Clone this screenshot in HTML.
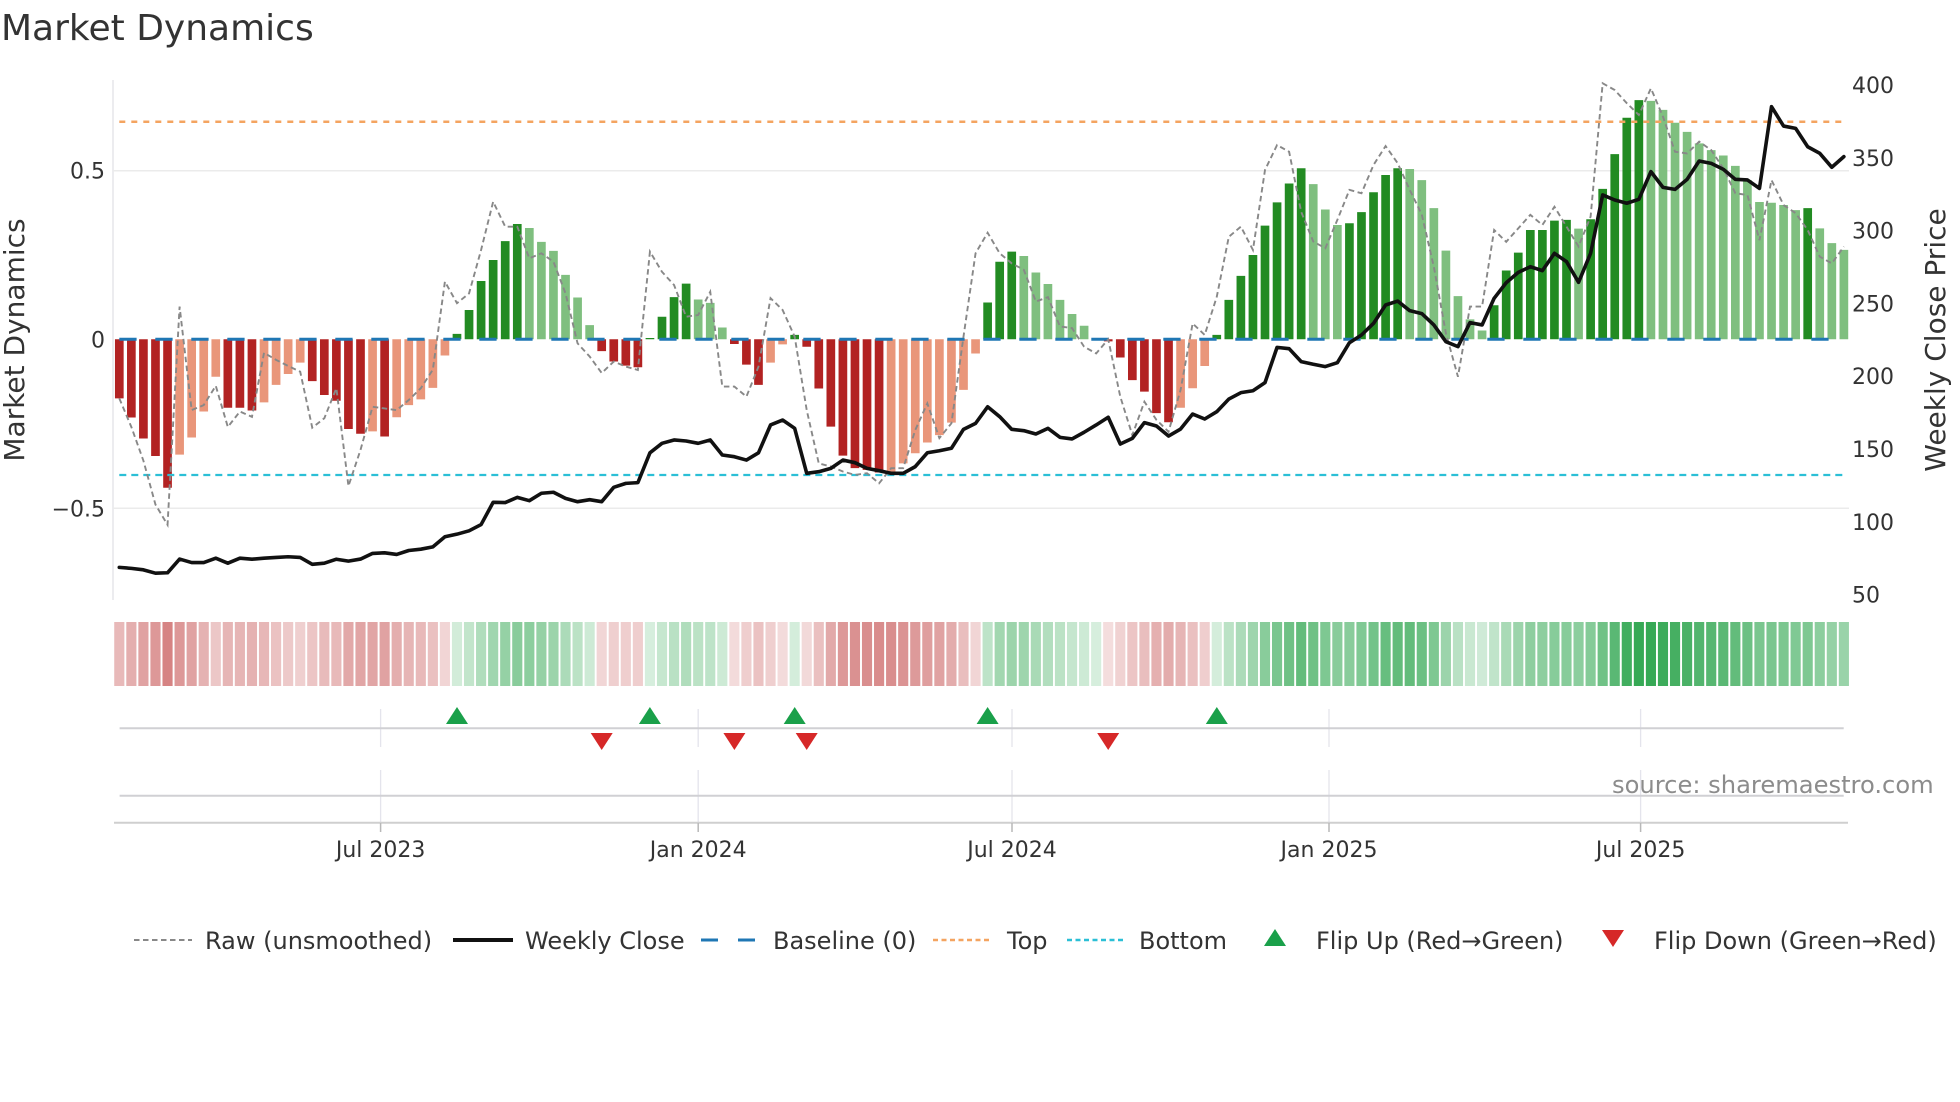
<!DOCTYPE html>
<html><head><meta charset="utf-8"><style>
html,body{margin:0;padding:0;background:#fff}
svg{display:block}
text{font-family:"DejaVu Sans","Liberation Sans",sans-serif;fill:#333}
.tk{font-size:22px}
.lg{font-size:24px}
.hr{fill:#b41e1e}.hg{fill:#1d9e40}
</style></head><body>
<svg width="1960" height="1102" viewBox="0 0 1960 1102" xmlns="http://www.w3.org/2000/svg">
<rect width="1960" height="1102" fill="#fff"/>
<text x="1" y="40" style="font-size:36px">Market Dynamics</text>

<line x1="113" y1="80" x2="113" y2="600" stroke="#e6e6ea" stroke-width="1.5"/>
<line x1="113" y1="170.7" x2="1849" y2="170.7" stroke="#ebebeb" stroke-width="1.5"/>
<line x1="113" y1="508.3" x2="1849" y2="508.3" stroke="#ebebeb" stroke-width="1.5"/>

<g transform="translate(119.3,339.3) scale(12.06,-337.3)">
<path fill="#b22222" d="M-.36 0h.72V-.175h-.72zM.64 0h.72V-.232h-.72zM1.64 0h.72V-.294h-.72zM2.64 0h.72V-.346h-.72zM3.64 0h.72V-.44h-.72zM8.64 0h.72V-.203h-.72zM9.64 0h.72V-.203h-.72zM10.64 0h.72V-.211h-.72zM15.64 0h.72V-.124h-.72zM16.64 0h.72V-.165h-.72zM17.64 0h.72V-.182h-.72zM18.64 0h.72V-.266h-.72zM19.64 0h.72V-.28h-.72zM21.64 0h.72V-.288h-.72zM39.64 0h.72V-.035h-.72zM40.64 0h.72V-.066h-.72zM41.64 0h.72V-.078h-.72zM42.64 0h.72V-.083h-.72zM50.64 0h.72V-.014h-.72zM51.64 0h.72V-.075h-.72zM52.64 0h.72V-.135h-.72zM56.64 0h.72V-.022h-.72zM57.64 0h.72V-.146h-.72zM58.64 0h.72V-.259h-.72zM59.64 0h.72V-.345h-.72zM60.64 0h.72V-.382h-.72zM61.64 0h.72V-.387h-.72zM62.64 0h.72V-.395h-.72zM81.64 0h.72V-.006h-.72zM82.64 0h.72V-.054h-.72zM83.64 0h.72V-.121h-.72zM84.64 0h.72V-.155h-.72zM85.64 0h.72V-.219h-.72zM86.64 0h.72V-.246h-.72z"/>
<path fill="#e9967a" d="M4.64 0h.72V-.342h-.72zM5.64 0h.72V-.291h-.72zM6.64 0h.72V-.214h-.72zM7.64 0h.72V-.111h-.72zM11.64 0h.72V-.187h-.72zM12.64 0h.72V-.135h-.72zM13.64 0h.72V-.103h-.72zM14.64 0h.72V-.069h-.72zM20.64 0h.72V-.273h-.72zM22.64 0h.72V-.231h-.72zM23.64 0h.72V-.195h-.72zM24.64 0h.72V-.178h-.72zM25.64 0h.72V-.144h-.72zM26.64 0h.72V-.048h-.72zM53.64 0h.72V-.069h-.72zM54.64 0h.72V-.015h-.72zM63.64 0h.72V-.393h-.72zM64.64 0h.72V-.368h-.72zM65.64 0h.72V-.338h-.72zM66.64 0h.72V-.306h-.72zM67.64 0h.72V-.284h-.72zM68.64 0h.72V-.247h-.72zM69.64 0h.72V-.15h-.72zM70.64 0h.72V-.042h-.72zM87.64 0h.72V-.203h-.72zM88.64 0h.72V-.145h-.72zM89.64 0h.72V-.079h-.72z"/>
<path fill="#228b22" d="M27.64 0h.72V.016h-.72zM28.64 0h.72V.087h-.72zM29.64 0h.72V.173h-.72zM30.64 0h.72V.235h-.72zM31.64 0h.72V.291h-.72zM32.64 0h.72V.342h-.72zM43.64 0h.72V.004h-.72zM44.64 0h.72V.067h-.72zM45.64 0h.72V.125h-.72zM46.64 0h.72V.165h-.72zM55.64 0h.72V.013h-.72zM71.64 0h.72V.109h-.72zM72.64 0h.72V.23h-.72zM73.64 0h.72V.26h-.72zM90.64 0h.72V.013h-.72zM91.64 0h.72V.117h-.72zM92.64 0h.72V.188h-.72zM93.64 0h.72V.25h-.72zM94.64 0h.72V.337h-.72zM95.64 0h.72V.406h-.72zM96.64 0h.72V.462h-.72zM97.64 0h.72V.507h-.72zM101.64 0h.72V.344h-.72zM102.64 0h.72V.377h-.72zM103.64 0h.72V.436h-.72zM104.64 0h.72V.487h-.72zM105.64 0h.72V.507h-.72zM113.64 0h.72V.101h-.72zM114.64 0h.72V.204h-.72zM115.64 0h.72V.257h-.72zM116.64 0h.72V.324h-.72zM117.64 0h.72V.324h-.72zM118.64 0h.72V.352h-.72zM119.64 0h.72V.354h-.72zM121.64 0h.72V.356h-.72zM122.64 0h.72V.446h-.72zM123.64 0h.72V.549h-.72zM124.64 0h.72V.657h-.72zM125.64 0h.72V.709h-.72zM139.64 0h.72V.389h-.72z"/>
<path fill="#7fbf7f" d="M33.64 0h.72V.33h-.72zM34.64 0h.72V.289h-.72zM35.64 0h.72V.262h-.72zM36.64 0h.72V.191h-.72zM37.64 0h.72V.124h-.72zM38.64 0h.72V.042h-.72zM47.64 0h.72V.118h-.72zM48.64 0h.72V.108h-.72zM49.64 0h.72V.035h-.72zM74.64 0h.72V.247h-.72zM75.64 0h.72V.198h-.72zM76.64 0h.72V.164h-.72zM77.64 0h.72V.117h-.72zM78.64 0h.72V.075h-.72zM79.64 0h.72V.04h-.72zM80.64 0h.72V.004h-.72zM98.64 0h.72V.46h-.72zM99.64 0h.72V.385h-.72zM100.64 0h.72V.339h-.72zM106.64 0h.72V.505h-.72zM107.64 0h.72V.472h-.72zM108.64 0h.72V.389h-.72zM109.64 0h.72V.263h-.72zM110.64 0h.72V.128h-.72zM111.64 0h.72V.059h-.72zM112.64 0h.72V.026h-.72zM120.64 0h.72V.328h-.72zM126.64 0h.72V.707h-.72zM127.64 0h.72V.68h-.72zM128.64 0h.72V.642h-.72zM129.64 0h.72V.615h-.72zM130.64 0h.72V.581h-.72zM131.64 0h.72V.561h-.72zM132.64 0h.72V.545h-.72zM133.64 0h.72V.514h-.72zM134.64 0h.72V.472h-.72zM135.64 0h.72V.407h-.72zM136.64 0h.72V.405h-.72zM137.64 0h.72V.398h-.72zM138.64 0h.72V.383h-.72zM140.64 0h.72V.329h-.72zM141.64 0h.72V.285h-.72zM142.64 0h.72V.265h-.72z"/>
</g>

<line x1="119.3" y1="121.7" x2="1844" y2="121.7" stroke="#f4a460" stroke-width="2.5" stroke-dasharray="6 6"/>
<line x1="119.3" y1="475" x2="1844" y2="475" stroke="#2bbfd6" stroke-width="2.3" stroke-dasharray="7 5"/>
<line x1="119.3" y1="339.3" x2="1846" y2="339.3" stroke="#1f77b4" stroke-width="3" stroke-dasharray="17.3 18.7"/>

<g transform="translate(119.3,339.3) scale(12.06,-337.3)">
<polyline fill="none" stroke="#888" stroke-width="1.9" stroke-dasharray="5.5 3.5" vector-effect="non-scaling-stroke" points="0,-.175 1,-.26 2,-.36 3,-.49 4,-.55 5,.097 6,-.21 7,-.195 8,-.138 9,-.26 10,-.214 11,-.23 12,-.04 13,-.061 14,-.079 15,-.096 16,-.262 17,-.234 18,-.145 19,-.435 20,-.328 21,-.2 22,-.205 23,-.21 24,-.18 25,-.145 26,-.09 27,.171 28,.107 29,.136 30,.265 31,.408 32,.334 33,.334 34,.24 35,.255 36,.23 37,.136 38,-.012 39,-.051 40,-.1 41,-.066 42,-.081 43,-.091 44,.26 45,.2 46,.161 47,.067 48,.072 49,.141 50,-.14 51,-.14 52,-.17 53,-.081 54,.122 55,.087 56,.008 57,-.21 58,-.368 59,-.377 60,-.392 61,-.402 62,-.397 63,-.427 64,-.382 65,-.382 66,-.269 67,-.19 68,-.293 69,-.249 70,.008 71,.255 72,.316 73,.255 74,.225 75,.206 76,.112 77,.125 78,.038 79,.033 80,-.022 81,-.042 82,0 83,-.17 84,-.284 85,-.185 86,-.239 87,-.274 88,-.15 89,.047 90,.013 91,.126 92,.304 93,.334 94,.265 95,.502 96,.576 97,.556 98,.378 99,.29 100,.27 101,.354 102,.443 103,.433 104,.517 105,.573 106,.522 107,.443 108,.37 109,.215 110,.018 111,-.111 112,.097 113,.097 114,.324 115,.289 116,.329 117,.369 118,.339 119,.393 120,.334 121,.275 122,.364 123,.759 124,.739 125,.7 126,.665 127,.744 128,.66 129,.556 130,.551 131,.586 132,.561 133,.507 134,.433 135,.428 136,.294 137,.472 138,.398 139,.374 140,.324 141,.245 142,.225 143,.275"/>
</g>

<g transform="translate(119.3,667.4) scale(12.06,-1.456)">
<polyline fill="none" stroke="#111" stroke-width="3.6" stroke-linejoin="round" stroke-linecap="round" vector-effect="non-scaling-stroke" points="0,68.7 1,68 2,67 3,64.7 4,65 5,74.4 6,72 7,72 8,75 9,71.6 10,75 11,74.3 12,75 13,75.5 14,76 15,75.5 16,70.8 17,71.6 18,74.3 19,73 20,74.4 21,78.3 22,78.7 23,77.6 24,80.3 25,81.2 26,82.8 27,89.7 28,91.5 29,93.8 30,98.1 31,113.4 32,113.2 33,116.8 34,114.5 35,119.6 36,120.3 37,116.1 38,113.8 39,115.2 40,113.8 41,123.7 42,126.4 43,126.9 44,147.4 45,153.9 46,156.2 47,155.5 48,153.9 49,156.2 50,145.9 51,144.7 52,142.4 53,147.4 54,166.5 55,169.9 56,164.2 57,133.3 58,134.4 59,136.7 60,142.4 61,140.6 62,136.7 63,135.1 64,133.3 65,133.3 66,137.9 67,147.4 68,148.8 69,150.5 70,163.5 71,167.6 72,179 73,172.2 74,163.5 75,162.6 76,160.3 77,164.2 78,158 79,156.9 80,161.5 81,166.5 82,171.8 83,153.4 84,157.3 85,168.1 86,165.8 87,158.9 88,163.7 89,174 90,170.6 91,175.6 92,184.3 93,188.7 94,190 95,195.6 96,219.8 97,218.9 98,210 99,208.2 100,206.6 101,209.3 102,223 103,228.3 104,236.3 105,248.9 106,251.6 107,245 108,243 109,235.2 110,223.7 111,220.3 112,236.8 113,235.2 114,253.5 115,264.2 116,271.3 117,275.2 118,272.5 119,284.4 120,278.7 121,264.5 122,284.4 123,324.5 124,321 125,318.8 126,321.5 127,340.5 128,329.7 129,328.3 130,335.2 131,347.8 132,346.2 133,342.1 134,335.2 135,334.8 136,329 137,385.1 138,371.8 139,370.2 140,357.6 141,353.1 142,343.5 143,350.8"/>
</g>

<g class="tk">
<text x="105" y="178.7" text-anchor="end">0.5</text>
<text x="105" y="347.3" text-anchor="end">0</text>
<text x="105" y="516.3" text-anchor="end">−0.5</text>
<text x="1852" y="93">400</text>
<text x="1852" y="165.8">350</text>
<text x="1852" y="238.6">300</text>
<text x="1852" y="311.4">250</text>
<text x="1852" y="384.2">200</text>
<text x="1852" y="457">150</text>
<text x="1852" y="529.8">100</text>
<text x="1852" y="602.6">50</text>
</g>
<text transform="translate(24,340) rotate(-90)" text-anchor="middle" style="font-size:28px">Market Dynamics</text>
<text transform="translate(1945,340) rotate(-90)" text-anchor="middle" style="font-size:28px">Weekly Close Price</text>

<g transform="translate(119.3,0) scale(12.06,1)">
<rect class="hr" x="-.42" y="622" width=".84" height="64" fill-opacity=".31"/>
<rect class="hr" x=".58" y="622" width=".84" height="64" fill-opacity=".36"/>
<rect class="hr" x="1.58" y="622" width=".84" height="64" fill-opacity=".41"/>
<rect class="hr" x="2.58" y="622" width=".84" height="64" fill-opacity=".46"/>
<rect class="hr" x="3.58" y="622" width=".84" height="64" fill-opacity=".55"/>
<rect class="hr" x="4.58" y="622" width=".84" height="64" fill-opacity=".46"/>
<rect class="hr" x="5.58" y="622" width=".84" height="64" fill-opacity=".41"/>
<rect class="hr" x="6.58" y="622" width=".84" height="64" fill-opacity=".34"/>
<rect class="hr" x="7.58" y="622" width=".84" height="64" fill-opacity=".25"/>
<rect class="hr" x="8.58" y="622" width=".84" height="64" fill-opacity=".33"/>
<rect class="hr" x="9.58" y="622" width=".84" height="64" fill-opacity=".33"/>
<rect class="hr" x="10.58" y="622" width=".84" height="64" fill-opacity=".34"/>
<rect class="hr" x="11.58" y="622" width=".84" height="64" fill-opacity=".32"/>
<rect class="hr" x="12.58" y="622" width=".84" height="64" fill-opacity=".27"/>
<rect class="hr" x="13.58" y="622" width=".84" height="64" fill-opacity=".24"/>
<rect class="hr" x="14.58" y="622" width=".84" height="64" fill-opacity=".21"/>
<rect class="hr" x="15.58" y="622" width=".84" height="64" fill-opacity=".26"/>
<rect class="hr" x="16.58" y="622" width=".84" height="64" fill-opacity=".30"/>
<rect class="hr" x="17.58" y="622" width=".84" height="64" fill-opacity=".31"/>
<rect class="hr" x="18.58" y="622" width=".84" height="64" fill-opacity=".39"/>
<rect class="hr" x="19.58" y="622" width=".84" height="64" fill-opacity=".40"/>
<rect class="hr" x="20.58" y="622" width=".84" height="64" fill-opacity=".40"/>
<rect class="hr" x="21.58" y="622" width=".84" height="64" fill-opacity=".41"/>
<rect class="hr" x="22.58" y="622" width=".84" height="64" fill-opacity=".36"/>
<rect class="hr" x="23.58" y="622" width=".84" height="64" fill-opacity=".33"/>
<rect class="hr" x="24.58" y="622" width=".84" height="64" fill-opacity=".31"/>
<rect class="hr" x="25.58" y="622" width=".84" height="64" fill-opacity=".28"/>
<rect class="hr" x="26.58" y="622" width=".84" height="64" fill-opacity=".19"/>
<rect class="hg" x="27.58" y="622" width=".84" height="64" fill-opacity=".20"/>
<rect class="hg" x="28.58" y="622" width=".84" height="64" fill-opacity=".27"/>
<rect class="hg" x="29.58" y="622" width=".84" height="64" fill-opacity=".35"/>
<rect class="hg" x="30.58" y="622" width=".84" height="64" fill-opacity=".42"/>
<rect class="hg" x="31.58" y="622" width=".84" height="64" fill-opacity=".47"/>
<rect class="hg" x="32.58" y="622" width=".84" height="64" fill-opacity=".52"/>
<rect class="hg" x="33.58" y="622" width=".84" height="64" fill-opacity=".51"/>
<rect class="hg" x="34.58" y="622" width=".84" height="64" fill-opacity=".47"/>
<rect class="hg" x="35.58" y="622" width=".84" height="64" fill-opacity=".44"/>
<rect class="hg" x="36.58" y="622" width=".84" height="64" fill-opacity=".37"/>
<rect class="hg" x="37.58" y="622" width=".84" height="64" fill-opacity=".30"/>
<rect class="hg" x="38.58" y="622" width=".84" height="64" fill-opacity=".22"/>
<rect class="hr" x="39.58" y="622" width=".84" height="64" fill-opacity=".18"/>
<rect class="hr" x="40.58" y="622" width=".84" height="64" fill-opacity=".21"/>
<rect class="hr" x="41.58" y="622" width=".84" height="64" fill-opacity=".22"/>
<rect class="hr" x="42.58" y="622" width=".84" height="64" fill-opacity=".22"/>
<rect class="hg" x="43.58" y="622" width=".84" height="64" fill-opacity=".18"/>
<rect class="hg" x="44.58" y="622" width=".84" height="64" fill-opacity=".25"/>
<rect class="hg" x="45.58" y="622" width=".84" height="64" fill-opacity=".31"/>
<rect class="hg" x="46.58" y="622" width=".84" height="64" fill-opacity=".35"/>
<rect class="hg" x="47.58" y="622" width=".84" height="64" fill-opacity=".30"/>
<rect class="hg" x="48.58" y="622" width=".84" height="64" fill-opacity=".29"/>
<rect class="hg" x="49.58" y="622" width=".84" height="64" fill-opacity=".22"/>
<rect class="hr" x="50.58" y="622" width=".84" height="64" fill-opacity=".16"/>
<rect class="hr" x="51.58" y="622" width=".84" height="64" fill-opacity=".22"/>
<rect class="hr" x="52.58" y="622" width=".84" height="64" fill-opacity=".27"/>
<rect class="hr" x="53.58" y="622" width=".84" height="64" fill-opacity=".21"/>
<rect class="hr" x="54.58" y="622" width=".84" height="64" fill-opacity=".16"/>
<rect class="hg" x="55.58" y="622" width=".84" height="64" fill-opacity=".19"/>
<rect class="hr" x="56.58" y="622" width=".84" height="64" fill-opacity=".17"/>
<rect class="hr" x="57.58" y="622" width=".84" height="64" fill-opacity=".28"/>
<rect class="hr" x="58.58" y="622" width=".84" height="64" fill-opacity=".38"/>
<rect class="hr" x="59.58" y="622" width=".84" height="64" fill-opacity=".46"/>
<rect class="hr" x="60.58" y="622" width=".84" height="64" fill-opacity=".49"/>
<rect class="hr" x="61.58" y="622" width=".84" height="64" fill-opacity=".50"/>
<rect class="hr" x="62.58" y="622" width=".84" height="64" fill-opacity=".51"/>
<rect class="hr" x="63.58" y="622" width=".84" height="64" fill-opacity=".50"/>
<rect class="hr" x="64.58" y="622" width=".84" height="64" fill-opacity=".48"/>
<rect class="hr" x="65.58" y="622" width=".84" height="64" fill-opacity=".45"/>
<rect class="hr" x="66.58" y="622" width=".84" height="64" fill-opacity=".43"/>
<rect class="hr" x="67.58" y="622" width=".84" height="64" fill-opacity=".41"/>
<rect class="hr" x="68.58" y="622" width=".84" height="64" fill-opacity=".37"/>
<rect class="hr" x="69.58" y="622" width=".84" height="64" fill-opacity=".29"/>
<rect class="hr" x="70.58" y="622" width=".84" height="64" fill-opacity=".19"/>
<rect class="hg" x="71.58" y="622" width=".84" height="64" fill-opacity=".29"/>
<rect class="hg" x="72.58" y="622" width=".84" height="64" fill-opacity=".41"/>
<rect class="hg" x="73.58" y="622" width=".84" height="64" fill-opacity=".44"/>
<rect class="hg" x="74.58" y="622" width=".84" height="64" fill-opacity=".43"/>
<rect class="hg" x="75.58" y="622" width=".84" height="64" fill-opacity=".38"/>
<rect class="hg" x="76.58" y="622" width=".84" height="64" fill-opacity=".34"/>
<rect class="hg" x="77.58" y="622" width=".84" height="64" fill-opacity=".30"/>
<rect class="hg" x="78.58" y="622" width=".84" height="64" fill-opacity=".26"/>
<rect class="hg" x="79.58" y="622" width=".84" height="64" fill-opacity=".22"/>
<rect class="hg" x="80.58" y="622" width=".84" height="64" fill-opacity=".18"/>
<rect class="hr" x="81.58" y="622" width=".84" height="64" fill-opacity=".15"/>
<rect class="hr" x="82.58" y="622" width=".84" height="64" fill-opacity=".20"/>
<rect class="hr" x="83.58" y="622" width=".84" height="64" fill-opacity=".26"/>
<rect class="hr" x="84.58" y="622" width=".84" height="64" fill-opacity=".29"/>
<rect class="hr" x="85.58" y="622" width=".84" height="64" fill-opacity=".35"/>
<rect class="hr" x="86.58" y="622" width=".84" height="64" fill-opacity=".37"/>
<rect class="hr" x="87.58" y="622" width=".84" height="64" fill-opacity=".33"/>
<rect class="hr" x="88.58" y="622" width=".84" height="64" fill-opacity=".28"/>
<rect class="hr" x="89.58" y="622" width=".84" height="64" fill-opacity=".22"/>
<rect class="hg" x="90.58" y="622" width=".84" height="64" fill-opacity=".19"/>
<rect class="hg" x="91.58" y="622" width=".84" height="64" fill-opacity=".30"/>
<rect class="hg" x="92.58" y="622" width=".84" height="64" fill-opacity=".37"/>
<rect class="hg" x="93.58" y="622" width=".84" height="64" fill-opacity=".43"/>
<rect class="hg" x="94.58" y="622" width=".84" height="64" fill-opacity=".52"/>
<rect class="hg" x="95.58" y="622" width=".84" height="64" fill-opacity=".59"/>
<rect class="hg" x="96.58" y="622" width=".84" height="64" fill-opacity=".64"/>
<rect class="hg" x="97.58" y="622" width=".84" height="64" fill-opacity=".69"/>
<rect class="hg" x="98.58" y="622" width=".84" height="64" fill-opacity=".64"/>
<rect class="hg" x="99.58" y="622" width=".84" height="64" fill-opacity=".57"/>
<rect class="hg" x="100.58" y="622" width=".84" height="64" fill-opacity=".52"/>
<rect class="hg" x="101.58" y="622" width=".84" height="64" fill-opacity=".52"/>
<rect class="hg" x="102.58" y="622" width=".84" height="64" fill-opacity=".56"/>
<rect class="hg" x="103.58" y="622" width=".84" height="64" fill-opacity=".62"/>
<rect class="hg" x="104.58" y="622" width=".84" height="64" fill-opacity=".67"/>
<rect class="hg" x="105.58" y="622" width=".84" height="64" fill-opacity=".69"/>
<rect class="hg" x="106.58" y="622" width=".84" height="64" fill-opacity=".69"/>
<rect class="hg" x="107.58" y="622" width=".84" height="64" fill-opacity=".65"/>
<rect class="hg" x="108.58" y="622" width=".84" height="64" fill-opacity=".57"/>
<rect class="hg" x="109.58" y="622" width=".84" height="64" fill-opacity=".44"/>
<rect class="hg" x="110.58" y="622" width=".84" height="64" fill-opacity=".31"/>
<rect class="hg" x="111.58" y="622" width=".84" height="64" fill-opacity=".24"/>
<rect class="hg" x="112.58" y="622" width=".84" height="64" fill-opacity=".21"/>
<rect class="hg" x="113.58" y="622" width=".84" height="64" fill-opacity=".28"/>
<rect class="hg" x="114.58" y="622" width=".84" height="64" fill-opacity=".38"/>
<rect class="hg" x="115.58" y="622" width=".84" height="64" fill-opacity=".44"/>
<rect class="hg" x="116.58" y="622" width=".84" height="64" fill-opacity=".50"/>
<rect class="hg" x="117.58" y="622" width=".84" height="64" fill-opacity=".50"/>
<rect class="hg" x="118.58" y="622" width=".84" height="64" fill-opacity=".53"/>
<rect class="hg" x="119.58" y="622" width=".84" height="64" fill-opacity=".53"/>
<rect class="hg" x="120.58" y="622" width=".84" height="64" fill-opacity=".51"/>
<rect class="hg" x="121.58" y="622" width=".84" height="64" fill-opacity=".54"/>
<rect class="hg" x="122.58" y="622" width=".84" height="64" fill-opacity=".63"/>
<rect class="hg" x="123.58" y="622" width=".84" height="64" fill-opacity=".73"/>
<rect class="hg" x="124.58" y="622" width=".84" height="64" fill-opacity=".84"/>
<rect class="hg" x="125.58" y="622" width=".84" height="64" fill-opacity=".89"/>
<rect class="hg" x="126.58" y="622" width=".84" height="64" fill-opacity=".89"/>
<rect class="hg" x="127.58" y="622" width=".84" height="64" fill-opacity=".86"/>
<rect class="hg" x="128.58" y="622" width=".84" height="64" fill-opacity=".82"/>
<rect class="hg" x="129.58" y="622" width=".84" height="64" fill-opacity=".80"/>
<rect class="hg" x="130.58" y="622" width=".84" height="64" fill-opacity=".76"/>
<rect class="hg" x="131.58" y="622" width=".84" height="64" fill-opacity=".74"/>
<rect class="hg" x="132.58" y="622" width=".84" height="64" fill-opacity=".73"/>
<rect class="hg" x="133.58" y="622" width=".84" height="64" fill-opacity=".69"/>
<rect class="hg" x="134.58" y="622" width=".84" height="64" fill-opacity=".65"/>
<rect class="hg" x="135.58" y="622" width=".84" height="64" fill-opacity=".59"/>
<rect class="hg" x="136.58" y="622" width=".84" height="64" fill-opacity=".59"/>
<rect class="hg" x="137.58" y="622" width=".84" height="64" fill-opacity=".58"/>
<rect class="hg" x="138.58" y="622" width=".84" height="64" fill-opacity=".56"/>
<rect class="hg" x="139.58" y="622" width=".84" height="64" fill-opacity=".57"/>
<rect class="hg" x="140.58" y="622" width=".84" height="64" fill-opacity=".51"/>
<rect class="hg" x="141.58" y="622" width=".84" height="64" fill-opacity=".47"/>
<rect class="hg" x="142.58" y="622" width=".84" height="64" fill-opacity=".45"/>
</g>

<g stroke="#e4e4ec" stroke-width="1.3">
<line x1="380.6" y1="709" x2="380.6" y2="747"/><line x1="698.2" y1="709" x2="698.2" y2="747"/><line x1="1012" y1="709" x2="1012" y2="747"/><line x1="1329" y1="709" x2="1329" y2="747"/><line x1="1640.6" y1="709" x2="1640.6" y2="747"/>
<line x1="380.6" y1="770" x2="380.6" y2="822"/><line x1="698.2" y1="770" x2="698.2" y2="822"/><line x1="1012" y1="770" x2="1012" y2="822"/><line x1="1329" y1="770" x2="1329" y2="822"/><line x1="1640.6" y1="770" x2="1640.6" y2="822"/>
</g>
<line x1="119.6" y1="728.3" x2="1843.7" y2="728.3" stroke="#d0d0d4" stroke-width="2"/>
<line x1="119.6" y1="795.7" x2="1843.7" y2="795.7" stroke="#d0d0d4" stroke-width="2"/>
<line x1="114" y1="822.7" x2="1848" y2="822.7" stroke="#cfcfcf" stroke-width="2"/>
<g stroke="#b8b8b8" stroke-width="1.5">
<line x1="380.6" y1="823" x2="380.6" y2="832"/><line x1="698.2" y1="823" x2="698.2" y2="832"/><line x1="1012" y1="823" x2="1012" y2="832"/><line x1="1329" y1="823" x2="1329" y2="832"/><line x1="1640.6" y1="823" x2="1640.6" y2="832"/>
</g>
<g fill="#1aa04a">
<polygon points="457,707 446,724 468,724"/>
<polygon points="649.9,707 638.9,724 660.9,724"/>
<polygon points="794.7,707 783.7,724 805.7,724"/>
<polygon points="987.6,707 976.6,724 998.6,724"/>
<polygon points="1216.8,707 1205.8,724 1227.8,724"/>
</g>
<g fill="#d62828">
<polygon points="601.7,750 590.7,733 612.7,733"/>
<polygon points="734.4,750 723.4,733 745.4,733"/>
<polygon points="806.7,750 795.7,733 817.7,733"/>
<polygon points="1108.2,750 1097.2,733 1119.2,733"/>
</g>
<text x="1612" y="793" style="font-size:24.2px;fill:#8c8c8c">source: sharemaestro.com</text>

<g class="tk" text-anchor="middle">
<text x="380.6" y="857">Jul 2023</text>
<text x="698.2" y="857">Jan 2024</text>
<text x="1012" y="857">Jul 2024</text>
<text x="1329" y="857">Jan 2025</text>
<text x="1640.6" y="857">Jul 2025</text>
</g>

<line x1="134" y1="940" x2="192" y2="940" stroke="#888" stroke-width="2" stroke-dasharray="5.5 3.5"/>
<text x="205" y="949" class="lg">Raw (unsmoothed)</text>
<line x1="453" y1="940" x2="513" y2="940" stroke="#111" stroke-width="4"/>
<text x="525" y="949" class="lg">Weekly Close</text>
<line x1="701" y1="940" x2="757" y2="940" stroke="#1f77b4" stroke-width="3" stroke-dasharray="17 20"/>
<text x="773" y="949" class="lg">Baseline (0)</text>
<line x1="933" y1="940" x2="989" y2="940" stroke="#f4a460" stroke-width="2.5" stroke-dasharray="5 3.5"/>
<text x="1007" y="949" class="lg">Top</text>
<line x1="1067" y1="940" x2="1123" y2="940" stroke="#2bbfd6" stroke-width="2.5" stroke-dasharray="5 3.5"/>
<text x="1139" y="949" class="lg">Bottom</text>
<polygon points="1275,929 1264,946 1286,946" fill="#1aa04a"/>
<text x="1316" y="949" class="lg">Flip Up (Red→Green)</text>
<polygon points="1613,947 1602,930 1624,930" fill="#d62828"/>
<text x="1654" y="949" class="lg">Flip Down (Green→Red)</text>
</svg>
</body></html>
